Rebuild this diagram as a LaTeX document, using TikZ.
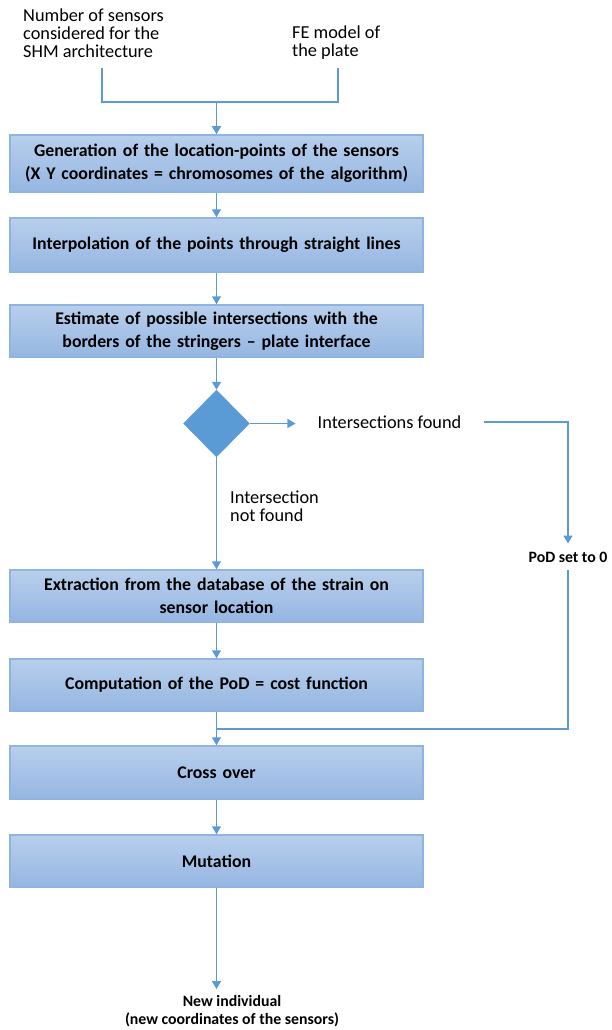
\documentclass[tikz,border=0pt]{standalone}
\usepackage{fontspec}
\setmainfont{Carlito}
\usetikzlibrary{arrows.meta,shapes.geometric}

\definecolor{flowblue}{HTML}{5B9BD5}
\definecolor{boxtop}{HTML}{B8CFEC}
\definecolor{boxbot}{HTML}{95B6E2}
\definecolor{boxedge}{HTML}{8FB4E0}

\begin{document}
\begin{tikzpicture}[x=1pt,y=-1pt,
  stepbox/.style={draw=boxedge, line width=1.5pt, top color=boxtop, bottom color=boxbot,
    minimum width=413pt, minimum height=52pt, text width=405pt, align=center, inner sep=0pt,
    font=\fontsize{17.8}{23}\selectfont\bfseries},
  decision/.style={diamond, fill=flowblue, draw=flowblue, minimum width=66pt, minimum height=67pt, inner sep=0pt},
  note/.style={font=\fontsize{18.3}{18}\selectfont, align=left, inner sep=0pt},
  boldnote/.style={font=\fontsize{15.8}{18}\selectfont\bfseries, align=center, inner sep=0pt},
  flow/.style={draw=flowblue, line width=1.5pt, -{Triangle[width=9pt,length=8pt]}},
  flowplain/.style={draw=flowblue, line width=1.5pt}]

\useasboundingbox (0,0) rectangle (612,1030);

%INPUTS
\node[note, anchor=west] (nsens) at (23,33.5) {Number of sensors\\considered for the\\SHM architecture};
\node[note, anchor=west] (femod) at (292,42.5) {FE model of\\the plate};
\coordinate (inA) at (102,68);
\coordinate (inB) at (338,68);
\coordinate (merge1) at (216.5,102);

%MAIN STEPS
\node[stepbox, minimum height=57pt] (gen) at (216.5,163.5) {Generation of the location-points of the sensors\\(X Y coordinates = chromosomes of the algorithm)};
\node[stepbox, minimum height=54pt] (interp) at (216.5,245) {Interpolation of the points through straight lines};
\node[stepbox] (estim) at (216.5,331) {Estimate of possible intersections with the\\borders of the stringers -- plate interface};
\node[decision] (check) at (216.5,423.5) {};
\node[note, inner xsep=22pt, inner ysep=4pt] (found) at (389.5,422) {Intersections found};
\node[note, anchor=north west] (notfound) at (230,491) {Intersection\\not found};
\node[boldnote, inner ysep=8pt] (pod) at (568,557) {PoD set to 0};
\node[stepbox] (extract) at (216.5,596) {Extraction from the database of the strain on\\sensor location};
\node[stepbox] (podcalc) at (216.5,685) {Computation of the PoD = cost function};
\coordinate (join) at (216.5,729);
\node[stepbox, minimum height=53pt] (cross) at (216.5,772.5) {Cross over};
\node[stepbox] (mutat) at (216.5,861) {Mutation};
\node[boldnote, inner ysep=6pt] (newind) at (232,1011) {New individual\\(new coordinates of the sensors)};

%%%%%%%%%%%%%%%%
\draw[flowplain] (inA) |- (merge1) -| (inB);
\draw[flow] (merge1) -- (gen);
\draw[flow] (gen) -- (interp);
\draw[flow] (interp) -- (estim);
\draw[flow] (estim) -- (check);
\draw[flow] (check.east) -- (check.east -| found.west);
\draw[flow] (check) -- (extract);
\draw[flow] (extract) -- (podcalc);
\draw[flowplain] (podcalc) -- (join);
\draw[flow] (join) -- (cross);
\draw[flow] (cross) -- (mutat);
\draw[flow] (mutat) -- (mutat |- newind.north);
%%%%%%%%%%%%%%%%
\draw[flow] (found) -| (pod);
\draw[flowplain] (pod) |- (join);
\end{tikzpicture}
\end{document}
